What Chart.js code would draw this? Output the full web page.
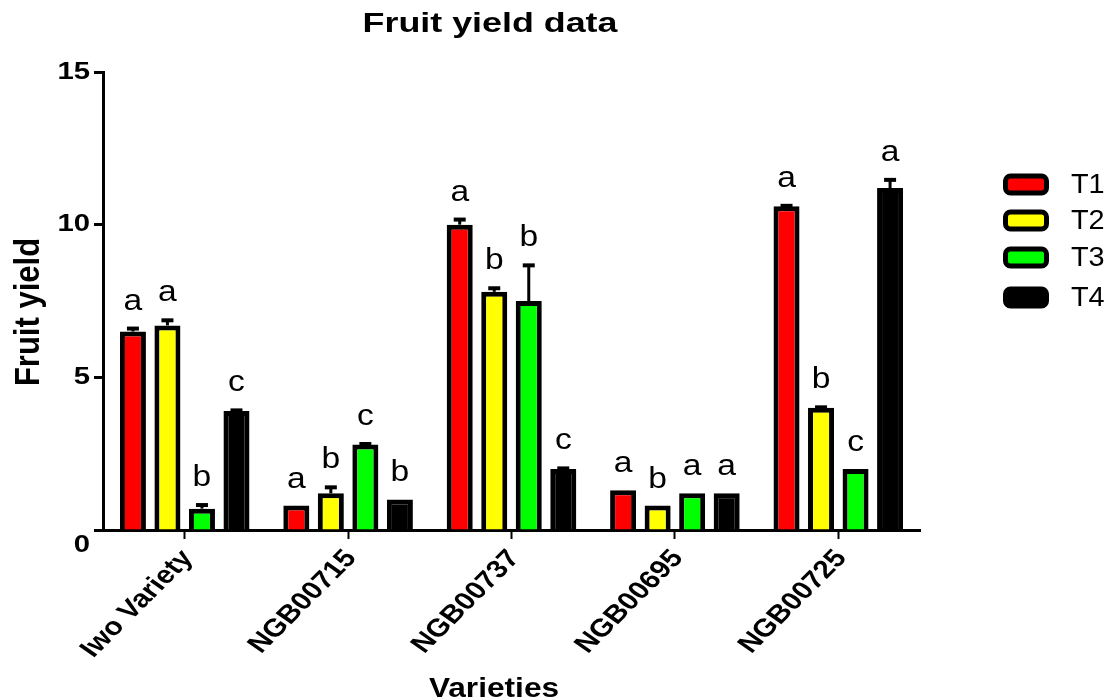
<!DOCTYPE html>
<html>
<head>
<meta charset="utf-8">
<script src="https://cdn.jsdelivr.net/npm/chart.js@4/dist/chart.umd.min.js"></script>
<style>
  html, body { margin: 0; padding: 0; background: #fff; }
  #wrap { width: 1109px; height: 700px; }
</style>
</head>
<body>
<div id="wrap"><canvas id="chart" width="1109" height="700"></canvas></div>
<script>
// Varieties on the x axis, treatments as grouped bars
const varieties = ['Iwo Variety', 'NGB00715', 'NGB00737', 'NGB00695', 'NGB00725'];
const treatments = ['T1', 'T2', 'T3', 'T4'];

// Mean fruit yield per treatment
const t1Means = [6.5, 0.8, 10.0, 1.3, 10.6];
const t2Means = [6.7, 1.2, 7.8, 0.8, 4.0];
const t3Means = [0.7, 2.8, 7.5, 1.2, 2.0];
const t4Means = [3.9, 1.0, 2.0, 1.2, 11.2];

// Standard error (upper whisker only)
const t1Err = [0.13, 0.0, 0.2, 0.0, 0.05];
const t2Err = [0.2, 0.23, 0.15, 0.0, 0.05];
const t3Err = [0.15, 0.05, 1.2, 0.0, 0.0];
const t4Err = [0.05, 0.0, 0.05, 0.0, 0.3];

// Significance letters above each bar
const t1Letters = ['a', 'a', 'a', 'a', 'a'];
const t2Letters = ['a', 'b', 'b', 'b', 'b'];
const t3Letters = ['b', 'c', 'b', 'a', 'c'];
const t4Letters = ['c', 'b', 'c', 'a', 'a'];

// Y axis tick values
const yTicks = [0, 5, 10, 15];

const FONT = "'Liberation Sans', Arial, sans-serif";
const fills = ['#ff0000', '#ffff00', '#00ff00', '#000000'];
const means = [t1Means, t2Means, t3Means, t4Means];
const errs = [t1Err, t2Err, t3Err, t4Err];
const letters = [t1Letters, t2Letters, t3Letters, t4Letters];

const datasets = treatments.map((name, i) => ({
  label: name,
  data: means[i],
  errors: errs[i],
  letters: letters[i],
  backgroundColor: fills[i],
  borderColor: '#000',
  borderWidth: 5,
  borderSkipped: 'bottom',
  categoryPercentage: 0.845,
  barPercentage: 0.754
}));

// Text helper: optional rotation, then a horizontal widening of the glyphs
function drawText(ctx, text, x, y, o) {
  ctx.save();
  ctx.translate(x, y);
  ctx.scale(o.sx || 1, 1);
  if (o.rot) ctx.rotate(o.rot);
  ctx.font = o.font;
  ctx.fillStyle = '#000';
  ctx.textAlign = o.align || 'center';
  ctx.textBaseline = o.baseline || 'alphabetic';
  ctx.fillText(text, 0, 0);
  ctx.restore();
}

// Error whiskers, letters, axis labels, title and legend
const decorations = {
  id: 'decorations',
  afterDatasetsDraw(chart) {
    const ctx = chart.ctx;
    const y = chart.scales.y;
    chart.data.datasets.forEach((ds, di) => {
      const meta = chart.getDatasetMeta(di);
      meta.data.forEach((bar, k) => {
        const v = ds.data[k];
        const e = ds.errors[k];
        const top = y.getPixelForValue(v + e);
        if (e > 0) {
          ctx.save();
          ctx.strokeStyle = '#000';
          ctx.lineWidth = 3;
          ctx.beginPath();
          ctx.moveTo(bar.x, y.getPixelForValue(v));
          ctx.lineTo(bar.x, top);
          ctx.stroke();
          ctx.lineWidth = 4;
          ctx.beginPath();
          ctx.moveTo(bar.x - 6, top + 1);
          ctx.lineTo(bar.x + 6, top + 1);
          ctx.stroke();
          ctx.restore();
        }
        drawText(ctx, ds.letters[k], bar.x, top - 18, { font: '30px ' + FONT, sx: 1.12 });
      });
    });
  },
  afterDraw(chart) {
    const ctx = chart.ctx;
    const x = chart.scales.x;
    const y = chart.scales.y;
    // y tick labels; the zero label sits below the x axis line
    yTicks.forEach(v => {
      const py = y.getPixelForValue(v) + (v === 0 ? 15 : 0);
      drawText(ctx, String(v), 90, py, { font: 'bold 24px ' + FONT, sx: 1.22, align: 'right', baseline: 'middle' });
    });
    // x tick labels, slanted
    varieties.forEach((name, i) => {
      const px = x.getPixelForValue(i);
      drawText(ctx, name, px + 3, 554, {
        font: 'bold 25px ' + FONT, sx: 1.2, rot: -50 * Math.PI / 180, align: 'right', baseline: 'middle'
      });
    });
    // axis titles
    drawText(ctx, 'Varieties', 494, 697, { font: 'bold 28px ' + FONT, sx: 1.13 });
    drawText(ctx, 'Fruit yield', 29, 312, {
      font: 'bold 31px ' + FONT, sx: 1.14, rot: -Math.PI / 2, baseline: 'middle'
    });
    // chart title
    drawText(ctx, 'Fruit yield data', 490, 32, { font: 'bold 28px ' + FONT, sx: 1.28 });
    // legend
    const rows = [184, 220, 257, 297];
    chart.data.datasets.forEach((ds, i) => {
      const cy = rows[i];
      ctx.save();
      ctx.beginPath();
      ctx.roundRect(1005.5, cy - 8, 41, 17, 5);
      ctx.fillStyle = ds.backgroundColor;
      ctx.fill();
      ctx.lineWidth = 5;
      ctx.strokeStyle = '#000';
      ctx.stroke();
      ctx.restore();
      drawText(ctx, ds.label, 1071, cy + 1, { font: '28px ' + FONT, sx: 1.03, align: 'left', baseline: 'middle' });
    });
  }
};

new Chart(document.getElementById('chart'), {
  type: 'bar',
  data: { labels: varieties, datasets },
  options: {
    responsive: false,
    animation: false,
    layout: { padding: { top: 72, right: 189, bottom: 0, left: 0 } },
    plugins: {
      legend: { display: false },
      title: { display: false },
      tooltip: { enabled: false }
    },
    scales: {
      x: {
        grid: {
          display: true, drawOnChartArea: false, drawTicks: true,
          tickLength: 9, tickWidth: 2, tickColor: '#000', offset: false
        },
        border: { display: true, color: '#000', width: 3 },
        ticks: { display: false },
        afterFit(scale) { scale.height = 170; }
      },
      y: {
        min: 0, max: 15,
        afterBuildTicks(scale) { scale.ticks = yTicks.map(v => ({ value: v })); },
        grid: {
          display: true, drawOnChartArea: false, drawTicks: true,
          tickLength: 9, tickWidth: 3, tickColor: '#000'
        },
        border: { display: true, color: '#000', width: 3 },
        ticks: { display: false },
        afterFit(scale) { scale.width = 103; }
      }
    }
  },
  plugins: [decorations]
});
</script>
</body>
</html>
